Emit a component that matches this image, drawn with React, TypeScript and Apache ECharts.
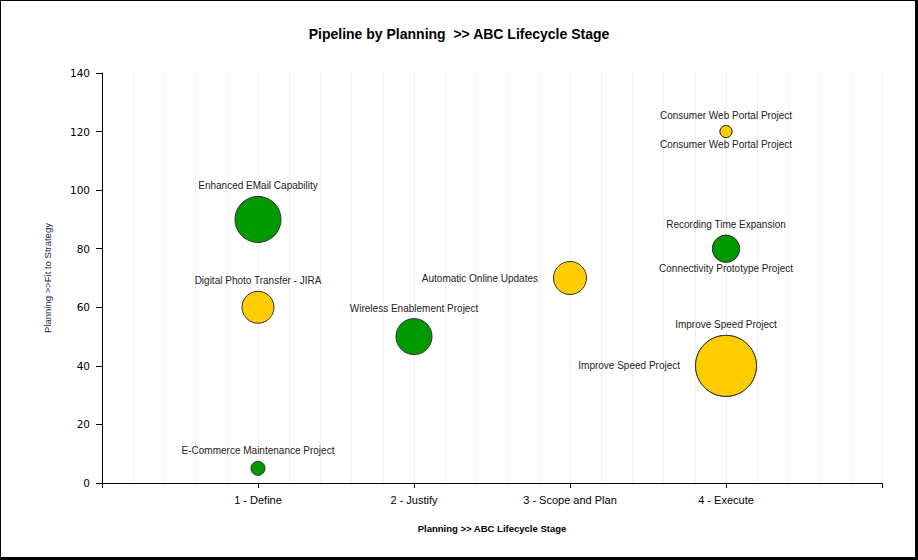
import React, { useEffect, useRef } from "react";
import * as echarts from "echarts";

// Lifecycle stages shown on the x axis (positions 1..4)
const stageLabels = ["1 - Define", "2 - Justify", "3 - Scope and Plan", "4 - Execute"];

// Fit-to-strategy scale
const fitMin = 0;
const fitMax = 140;
const fitStep = 20;

// Projects in the pipeline
const projectNames = [
  "Improve Speed Project",
  "Improve Speed Project",
  "Enhanced EMail Capability",
  "Wireless Enablement Project",
  "Automatic Online Updates",
  "Digital Photo Transfer - JIRA",
  "Recording Time Expansion",
  "Connectivity Prototype Project",
  "E-Commerce Maintenance Project",
  "Consumer Web Portal Project",
  "Consumer Web Portal Project",
];
const projectStage = [4, 4, 1, 2, 3, 1, 4, 4, 1, 4, 4];
const projectFit = [40, 40, 90, 50, 70, 60, 80, 80, 5, 120, 120];
const projectBubble = [61, 61, 46, 36, 33, 32, 27, 27, 14, 12, 12];
const projectHealth = ["yellow", "yellow", "green", "green", "yellow", "yellow", "green", "green", "green", "yellow", "yellow"];

const healthColors: Record<string, string> = {
  green: "#009900",
  yellow: "#FFCC00",
};

// Where each project's caption sits around its bubble
const captionSide = ["top", "left", "top", "top", "left", "top", "top", "bottom", "top", "top", "bottom"];
const captionGap: Record<string, number> = { top: 5, bottom: 1, left: 15 };

export default function App() {
  const ref = useRef<HTMLDivElement>(null);

  useEffect(() => {
    if (!ref.current) return;
    const chart = echarts.init(ref.current, undefined, { renderer: "svg" });

    const data = projectNames.map((name, i) => ({
      name,
      value: [projectStage[i], projectFit[i], projectBubble[i]],
      itemStyle: { color: healthColors[projectHealth[i]] },
      label: {
        position: captionSide[i],
        distance: captionGap[captionSide[i]],
      },
    }));

    const gridLine = { color: "#e0e0e0", type: "dotted", width: 1 };

    chart.setOption({
      animation: false,
      backgroundColor: "#ffffff",
      title: {
        text: "Pipeline by Planning  >> ABC Lifecycle Stage",
        left: "center",
        top: 22,
        textStyle: {
          fontFamily: "Liberation Sans",
          fontWeight: "bold",
          fontSize: 14,
          color: "#000000",
        },
      },
      grid: { left: 102, top: 73, right: 36, bottom: 77 },
      xAxis: {
        type: "value",
        min: 0,
        max: stageLabels.length + 1,
        interval: 1,
        name: "Planning >> ABC Lifecycle Stage",
        nameLocation: "middle",
        nameGap: 40,
        nameTextStyle: {
          fontFamily: "Liberation Sans",
          fontWeight: "bold",
          fontSize: 9.5,
          color: "#000000",
        },
        axisLine: { show: true, onZero: false, lineStyle: { color: "#000000", width: 1 } },
        axisTick: { show: true, length: 5, lineStyle: { color: "#000000" } },
        axisLabel: {
          margin: 11,
          fontFamily: "Liberation Sans",
          fontSize: 11,
          color: "#000000",
          formatter: (v: number) => stageLabels[v - 1] ?? "",
        },
        splitLine: { show: true, lineStyle: gridLine },
        minorTick: { show: false, splitNumber: 5 },
        minorSplitLine: { show: true, lineStyle: gridLine },
      },
      yAxis: {
        type: "value",
        min: fitMin,
        max: fitMax,
        interval: fitStep,
        name: "Planning >>Fit to Strategy",
        nameLocation: "middle",
        nameGap: 50,
        nameTextStyle: {
          fontFamily: "Liberation Sans",
          fontSize: 9.5,
          color: "#24245A",
        },
        axisLine: { show: true, lineStyle: { color: "#000000", width: 1 } },
        axisTick: { show: true, length: 6, lineStyle: { color: "#000000" } },
        axisLabel: {
          margin: 12,
          fontFamily: "DejaVu Sans",
          fontSize: 10.5,
          color: "#000000",
        },
        splitLine: { show: false },
      },
      series: [
        {
          type: "scatter",
          data,
          symbol: "circle",
          symbolSize: (val: number[]) => val[2],
          itemStyle: { borderColor: "#333333", borderWidth: 1, opacity: 1 },
          label: {
            show: true,
            formatter: "{b}",
            fontFamily: "Liberation Sans",
            fontSize: 10,
            color: "#222222",
          },
          emphasis: { disabled: true },
        },
      ],
    });

    return () => chart.dispose();
  }, []);

  return (
    <div style={{ position: "fixed", left: 0, top: 0, width: 918, height: 560, background: "#fff" }}>
      <div ref={ref} style={{ position: "absolute", left: 0, top: 0, width: 918, height: 560 }} />
      <div
        style={{
          position: "absolute",
          left: 0,
          top: 0,
          width: 918,
          height: 560,
          boxSizing: "border-box",
          borderTop: "1px solid #000",
          borderLeft: "1px solid #000",
          borderRight: "3px solid #000",
          borderBottom: "3px solid #000",
          pointerEvents: "none",
        }}
      />
    </div>
  );
}
